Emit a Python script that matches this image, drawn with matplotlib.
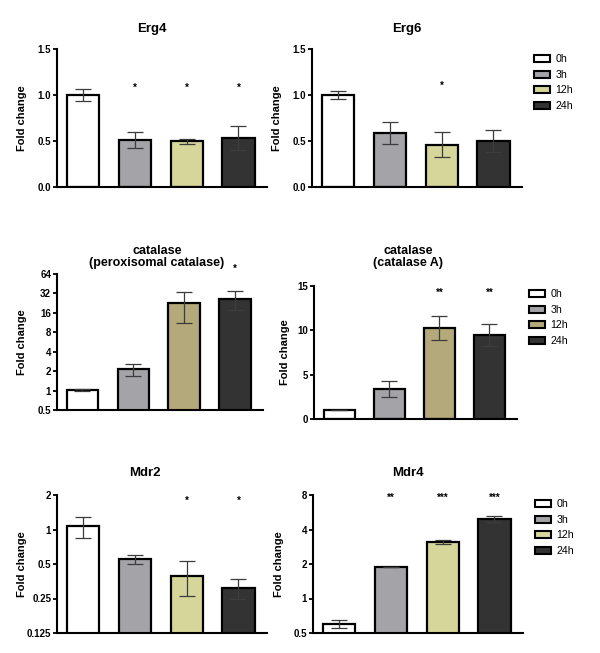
import matplotlib
matplotlib.use("Agg")
import matplotlib.pyplot as plt
from matplotlib.patches import Patch
from matplotlib.ticker import FixedLocator, FixedFormatter, NullLocator

plt.rcParams['font.family'] = ['Liberation Sans', 'DejaVu Sans']

W, H = 600, 653

times = ['0h', '3h', '12h', '24h']

erg4_mean = [1.00, 0.515, 0.495, 0.533]
erg4_sem = [0.06, 0.088, 0.025, 0.13]
erg4_sig = ['', '*', '*', '*']

erg6_mean = [1.00, 0.587, 0.46, 0.50]
erg6_sem = [0.04, 0.116, 0.136, 0.12]
erg6_sig = ['', '', '*', '']

catp_mean = [1.01, 2.14, 22.7, 26.2]
catp_sem = [0.03, 0.43, 11.5, 8.3]
catp_sig = ['', '', '', '*']

cata_mean = [1.00, 3.41, 10.24, 9.49]
cata_sem = [0.03, 0.88, 1.35, 1.26]
cata_sig = ['', '', '**', '**']

mdr2_mean = [1.07, 0.553, 0.395, 0.308]
mdr2_sem = [0.225, 0.05, 0.131, 0.061]
mdr2_sig = ['', '', '*', '*']

mdr4_mean = [0.598, 1.89, 3.12, 4.98]
mdr4_sem = [0.048, 0.0, 0.11, 0.31]
mdr4_sig = ['', '**', '***', '***']

lin_ticks = [0.0, 0.5, 1.0, 1.5]
lin_labels = ['0.0', '0.5', '1.0', '1.5']
catp_ticks = [0.5, 1, 2, 4, 8, 16, 32, 64]
catp_labels = ['0.5', '1', '2', '4', '8', '16', '32', '64']
cata_ticks = [0, 5, 10, 15]
cata_labels = ['0', '5', '10', '15']
mdr2_ticks = [0.125, 0.25, 0.5, 1, 2]
mdr2_labels = ['0.125', '0.25', '0.5', '1', '2']
mdr4_ticks = [0.5, 1, 2, 4, 8]
mdr4_labels = ['0.5', '1', '2', '4', '8']

c_white = '#ffffff'
c_gray = '#a3a3a8'
c_pale = '#d6d69b'
c_khaki = '#b4a97a'
c_dark = '#333333'

fig = plt.figure(figsize=(W / 100, H / 100), dpi=100)


def px_axes(left, top, right, bottom):
    return fig.add_axes([left / W, 1 - bottom / H, (right - left) / W, (bottom - top) / H])


def panel(rect, means, sems, sig, sig_y, colors, ticks, labels, ylim, log, title_lines,
          title_xy, ylab_x, title_size=9.5):
    ax = px_axes(*rect)
    x = list(range(len(means)))
    ax.bar(x, means, width=0.62, color=colors, edgecolor='black', linewidth=1.6, zorder=2)
    ax.errorbar(x, means, yerr=sems, fmt='none', ecolor='#3c3c3c', elinewidth=0.9,
                capsize=5.5, capthick=0.9, zorder=3)
    if log:
        ax.set_yscale('log', base=2)
    ax.set_ylim(*ylim)
    ax.set_xlim(-0.5, 3.55)
    ax.yaxis.set_major_locator(FixedLocator(ticks))
    ax.yaxis.set_major_formatter(FixedFormatter(labels))
    ax.yaxis.set_minor_locator(NullLocator())
    ax.set_xticks([])
    for s in ['top', 'right']:
        ax.spines[s].set_visible(False)
    for s in ['left', 'bottom']:
        ax.spines[s].set_linewidth(1.5)
    ax.tick_params(axis='y', direction='out', length=3, width=1.3, pad=1.2, labelsize=7)
    for lab in ax.get_yticklabels():
        lab.set_fontweight('bold')
    ax.set_ylabel('Fold change', fontsize=8, fontweight='bold')
    left, top, right, bottom = rect
    ax.yaxis.set_label_coords(-(left - ylab_x) / (right - left), 0.5)
    for xi, s in zip(x, sig):
        if s:
            ax.text(xi, sig_y, s, ha='center', va='center', fontsize=7, fontweight='bold',
                    clip_on=False)
    tx, ty = title_xy
    fig.text(tx / W, 1 - ty / H, '\n'.join(title_lines), ha='center', va='center',
             fontsize=title_size, fontweight='bold', linespacing=1.1)
    return ax


def add_legend(ax, colors, box_left, first_row_y):
    handles = [Patch(facecolor=c, edgecolor='black', linewidth=1.5) for c in colors]
    ax.legend(handles, times, loc='upper left', frameon=False, fontsize=7.7,
              bbox_to_anchor=((box_left - 6) / W, 1 - (first_row_y - 9) / H),
              bbox_transform=fig.transFigure, handlelength=1.45, handleheight=0.65,
              handletextpad=0.55, labelspacing=0.52, borderaxespad=0, borderpad=0.4)


cols_pale = [c_white, c_gray, c_pale, c_dark]
cols_khaki = [c_white, c_gray, c_khaki, c_dark]

panel((57, 49, 267, 187), erg4_mean, erg4_sem, erg4_sig, 1.08, cols_pale, lin_ticks,
      lin_labels, (0, 1.5), False, ['Erg4'], (152, 29), 27)
ax2 = panel((312, 49, 522, 187), erg6_mean, erg6_sem, erg6_sig, 1.1, cols_pale, lin_ticks,
            lin_labels, (0, 1.5), False, ['Erg6'], (407, 29), 282)
add_legend(ax2, cols_pale, 536, 59)

panel((57, 274, 263, 410), catp_mean, catp_sem, catp_sig, 78, cols_khaki, catp_ticks,
      catp_labels, (0.5, 64), True, ['catalase', '(peroxisomal catalase)'], (157, 257), 27,
      title_size=9)
ax4 = panel((314, 286, 517, 419), cata_mean, cata_sem, cata_sig, 14.2, cols_khaki, cata_ticks,
            cata_labels, (0, 15), False, ['catalase', '(catalase A)'], (408, 257), 290,
            title_size=9)
add_legend(ax4, cols_khaki, 531, 294)

panel((57, 495, 267, 633), mdr2_mean, mdr2_sem, mdr2_sig, 1.78, cols_pale, mdr2_ticks,
      mdr2_labels, (0.125, 2), True, ['Mdr2'], (145, 473), 27)
ax6 = panel((313, 495, 523, 633), mdr4_mean, mdr4_sem, mdr4_sig, 7.5, cols_pale, mdr4_ticks,
            mdr4_labels, (0.5, 8), True, ['Mdr4'], (408, 473), 284)
add_legend(ax6, cols_pale, 537, 504)

fig.savefig('out.png', dpi=100)
